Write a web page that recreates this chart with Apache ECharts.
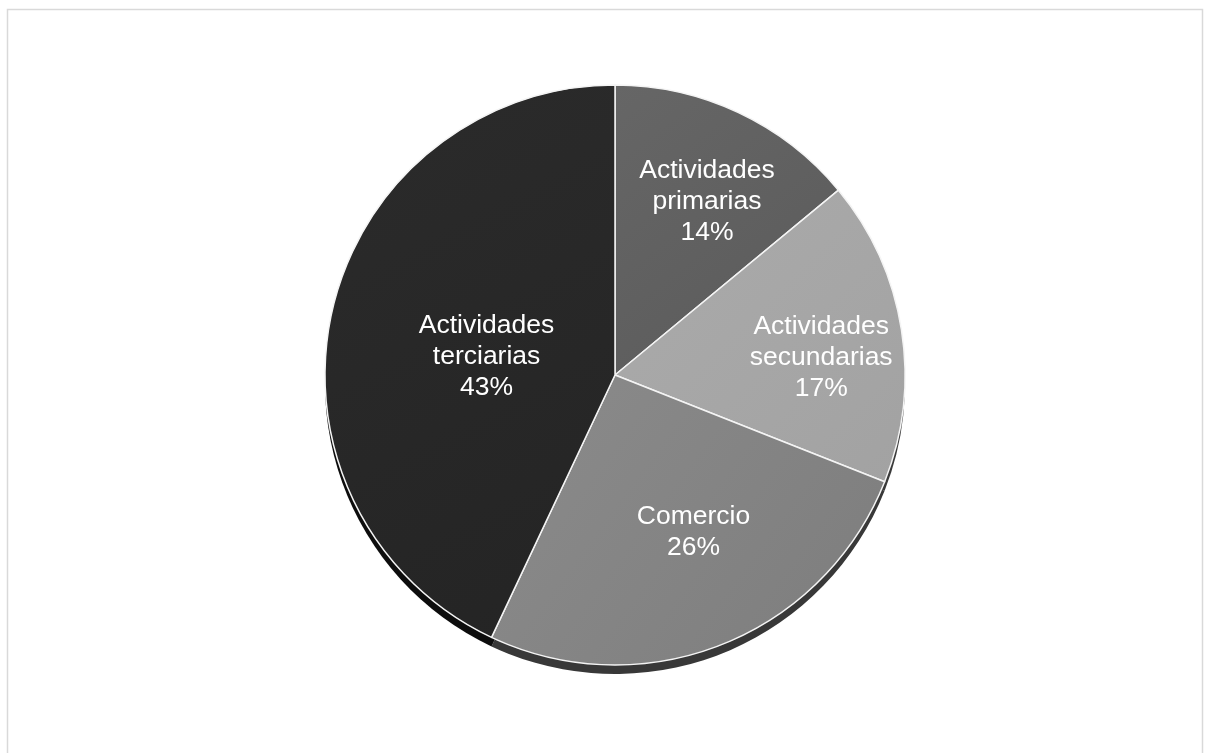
<!DOCTYPE html>
<html>
<head>
<meta charset="utf-8">
<style>
  html, body { margin: 0; padding: 0; background: #ffffff; }
  #chart { width: 1211px; height: 753px; }
</style>
<script src="https://cdn.jsdelivr.net/npm/echarts@6/dist/echarts.min.js"></script>
</head>
<body>
<div id="chart"></div>
<script>
// Sector names (line break as shown in the slice labels) and shares in percent
const categories = ['Actividades\nprimarias', 'Actividades\nsecundarias', 'Comercio', 'Actividades\nterciarias'];
const shares = [14, 17, 26, 43];

// Slice fills: light and dark ends of a soft diagonal shading
const fillLight = ['#666666', '#ababab', '#8b8b8b', '#2b2b2b'];
const fillDark  = ['#5a5a5a', '#a2a2a2', '#7d7d7d', '#242424'];
// Colour of the visible pie edge under each slice
const edgeColors = ['#3a3a3a', '#3a3a3a', '#383838', '#0d0d0d'];

// Label nudges away from the default inside position
const labelShift = [[29, -39], [60, 6], [24, 20], [16, 14]];

const center = [615, 375];
const radius = 290;

const chart = echarts.init(document.getElementById('chart'), null, { renderer: 'canvas' });

const faceData = categories.map((name, i) => ({
  name: name,
  value: shares[i],
  itemStyle: {
    color: new echarts.graphic.LinearGradient(0, 0, 1, 1, [
      { offset: 0, color: fillLight[i] },
      { offset: 1, color: fillDark[i] }
    ])
  }
}));

const edgeData = categories.map((name, i) => ({
  name: name,
  value: shares[i],
  itemStyle: { color: edgeColors[i] }
}));

chart.setOption({
  backgroundColor: '#ffffff',
  animation: false,
  graphic: [{
    type: 'rect',
    shape: { x: 7.5, y: 9.5, width: 1195, height: 770 },
    style: { fill: 'none', stroke: '#d9d9d9', lineWidth: 1.5 },
    silent: true,
    z: -10
  }],
  series: [
    {
      // thin extruded side of the pie, seen below the face
      type: 'pie',
      silent: true,
      z: 1,
      center: [center[0], center[1] + 9],
      radius: radius,
      startAngle: 90,
      clockwise: true,
      label: { show: false },
      labelLine: { show: false },
      itemStyle: { borderWidth: 0 },
      data: edgeData
    },
    {
      type: 'pie',
      z: 2,
      center: center,
      radius: radius,
      startAngle: 90,
      clockwise: true,
      itemStyle: { borderColor: '#f4f4f4', borderWidth: 1.5 },
      emphasis: { disabled: true },
      label: {
        show: true,
        position: 'inside',
        formatter: '{b}\n{d}%',
        color: '#ffffff',
        fontFamily: 'Liberation Sans, Arial, sans-serif',
        fontSize: 26.5,
        lineHeight: 31,
        align: 'center'
      },
      labelLine: { show: false },
      labelLayout: function (params) {
        const s = labelShift[params.dataIndex];
        return { dx: s[0], dy: s[1] };
      },
      data: faceData
    }
  ]
});
</script>
</body>
</html>
